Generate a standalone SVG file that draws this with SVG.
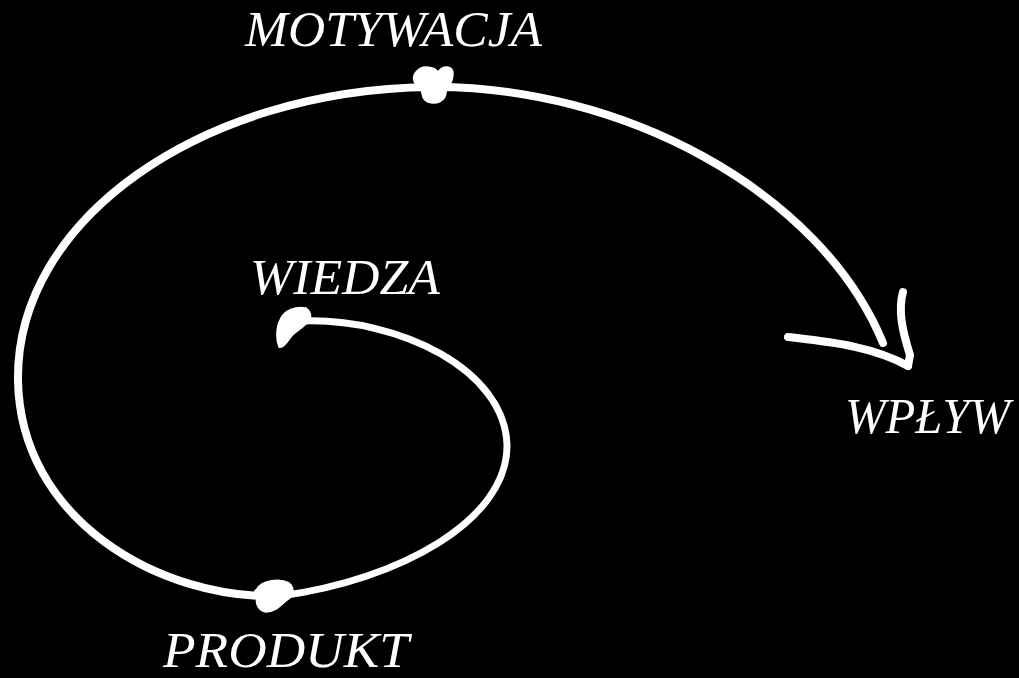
<svg xmlns="http://www.w3.org/2000/svg" width="1019" height="678" viewBox="0 0 1019 678">
  <style>
    .bg { fill: #000000; }
    .line { fill: none; stroke: #ffffff; stroke-linecap: round; stroke-linejoin: round; }
    .blob { fill: #ffffff; stroke: #ffffff; stroke-width: 1.5; stroke-linejoin: round; }
    .label { fill: #ffffff; font-family: "Liberation Serif", "DejaVu Serif", serif; font-style: italic; font-size: 50px; }
  </style>
  <rect class="bg" x="0" y="0" width="1019" height="678"/>
  <g id="connectors">
    <path class="line" stroke-width="7" d="M 303 321 C 400 318, 505 370, 507 445 C 508 520, 400 580, 280 596"/>
    <path class="line" stroke-width="8" d="M 280 596 C 160 600, 20 520, 18 380 C 16 220, 200 90, 430 87 C 620 85, 820 190, 883 343"/>
    <path class="line" stroke-width="8" d="M 788 337 C 830 342, 872 346, 908 366"/>
    <path class="line" stroke-width="8" d="M 903 292 C 898 310, 902 330, 910 355 L 908 366"/>
  </g>
  <g id="node-wiedza">
    <path class="blob" d="M 280 320 C 284 310, 296 306, 306 308 C 312 312, 312 320, 306 324 C 300 330, 294 332, 290 338 C 286 344, 282 348, 279 347 C 276 340, 276 328, 280 320 Z"/>
    <text class="label" x="250" y="294" textLength="190" lengthAdjust="spacingAndGlyphs">WIEDZA</text>
  </g>
  <g id="node-produkt">
    <path class="blob" d="M 257 589 C 262 580, 280 578, 289 583 C 295 588, 294 596, 287 600 C 281 605, 277 611, 266 612 C 259 611, 255 604, 257 598 C 253 594, 254 591, 257 589 Z"/>
    <text class="label" x="163" y="667" font-size="47" textLength="246" lengthAdjust="spacingAndGlyphs">PRODUKT</text>
  </g>
  <g id="node-motywacja">
    <path class="blob" d="M 416 72 C 423 63, 436 68, 438 72 C 443 65, 453 65, 453 74 C 453 83, 447 88, 446 92 C 446 101, 436 105, 428 102 C 420 99, 424 91, 419 87 C 413 83, 412 77, 416 72 Z"/>
    <text class="label" x="245" y="46" textLength="297" lengthAdjust="spacingAndGlyphs">MOTYWACJA</text>
  </g>
  <g id="node-wplyw">
    <text class="label" x="845" y="433" textLength="165" lengthAdjust="spacingAndGlyphs">WPŁYW</text>
  </g>
</svg>
